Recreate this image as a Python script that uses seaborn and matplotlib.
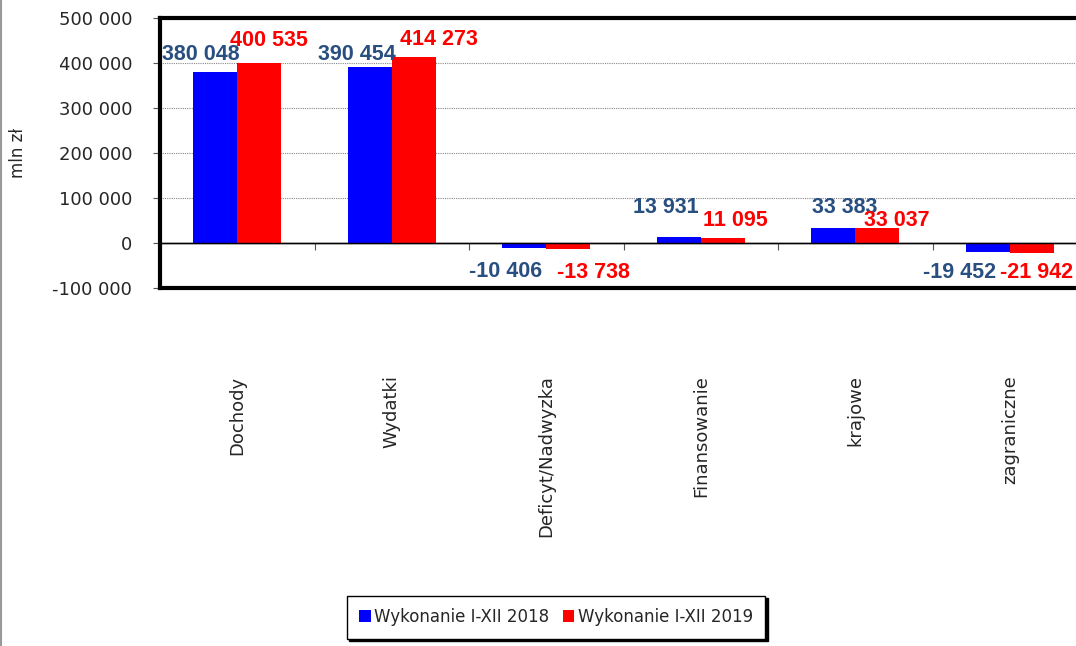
import pandas as pd
import seaborn as sns
import matplotlib.pyplot as plt
from matplotlib.ticker import FuncFormatter, MultipleLocator
from matplotlib.lines import Line2D

# data (mln zl)
categories = ["Dochody", "Wydatki", "Deficyt/Nadwyzka", "Finansowanie", "krajowe", "zagraniczne"]
series_names = ["Wykonanie I-XII 2018", "Wykonanie I-XII 2019"]
values_2018 = [380048, 390454, -10406, 13931, 33383, -19452]
values_2019 = [400535, 414273, -13738, 11095, 33037, -21942]

df = pd.DataFrame({
    "kategoria": categories * 2,
    "seria": [series_names[0]] * len(categories) + [series_names[1]] * len(categories),
    "wartosc": values_2018 + values_2019,
})

# label nudges in pixels (Excel moves them around to avoid overlaps)
label_dx = [[-14, -13, -19, -13, 11, -28], [10, 25, 25, 13, 20, 5]]
label_dy = [[7, 2, -13, 19, 10, -10], [12, 7, -13, 7, -3, -9]]

sns.set_style("white")
plt.rcParams["font.family"] = ["DejaVu Sans"]

colors = {series_names[0]: "#0000FF", series_names[1]: "#FF0000"}
label_colors = ["#284F80", "#FF0000"]

fig = plt.figure(figsize=(10.76, 6.46), dpi=100)
ax = fig.add_axes([160 / 1076, 1 - 288 / 646, 927 / 1076, 270 / 646])

sns.barplot(data=df, x="kategoria", y="wartosc", hue="seria", order=categories,
            hue_order=series_names, palette=colors, width=0.57, gap=0,
            saturation=1, linewidth=0, edgecolor="none", ax=ax, legend=True)

ax.set_ylim(-100000, 500000)
ax.set_xlim(-0.5, len(categories) - 0.5)
ax.yaxis.set_major_locator(MultipleLocator(100000))
ax.yaxis.set_major_formatter(FuncFormatter(lambda v, p: f"{int(v):,}".replace(",", " ")))
ax.grid(axis="y", color="#888888", linestyle=(0, (1, 1)), linewidth=0.8)
ax.set_axisbelow(True)
ax.axhline(0, color="black", linewidth=1, zorder=1.5)
ax.tick_params(axis="y", labelsize=13, length=5, width=0.8, color="#555555", left=True, pad=15)
ax.tick_params(axis="x", labelsize=13, length=0, pad=63, labelrotation=90)
ax.set_xlabel("")
ax.set_ylabel("mln zł", fontsize=12, labelpad=18)

for s in ax.spines.values():
    s.set_linewidth(3)
    s.set_color("black")

# zero line with category separators
zero_frac = (0 - (-100000)) / 600000
sec = ax.secondary_xaxis(zero_frac)
sec.set_xticks([i + 0.5 for i in range(-1, len(categories))])
sec.tick_params(axis="x", direction="out", length=5, width=0.8, color="#555555", labelbottom=False)
sec.spines["bottom"].set_linewidth(1)

# data labels
for k, cont in enumerate(ax.containers):
    vals = values_2018 if k == 0 else values_2019
    for i, (bar, v) in enumerate(zip(cont, vals)):
        x = bar.get_x() + bar.get_width() / 2
        txt = f"{v:,}".replace(",", " ")
        va = "bottom" if v >= 0 else "top"
        ax.annotate(txt, (x, v), xytext=(label_dx[k][i], label_dy[k][i]),
                    textcoords="offset pixels", ha="center", va=va, fontsize=15.5,
                    fontweight="bold", color=label_colors[k],
                    family=["Liberation Sans", "DejaVu Sans"])

ax.legend_.remove()
leg = fig.legend(*ax.get_legend_handles_labels(), loc="center", bbox_to_anchor=(556 / 1076, 1 - 617 / 646),
                 ncol=2, fontsize=12, frameon=True, fancybox=False, handlelength=0.7,
                 handleheight=0.7, handletextpad=0.2, columnspacing=0.8, borderpad=0.75,
                 shadow={"color": "black", "alpha": 1})
leg.get_frame().set_edgecolor("black")
leg.get_frame().set_linewidth(1)

fig.add_artist(Line2D([0.0008, 0.0008], [0, 1], color="#999999", linewidth=1.5))

fig.savefig("out.png", dpi=100)
